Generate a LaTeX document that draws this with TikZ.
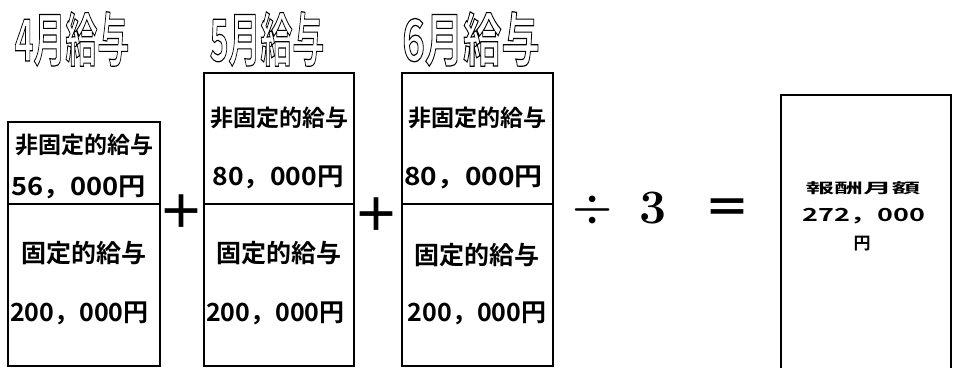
\documentclass[tikz,border=0pt]{standalone}
\usepackage{fontspec}
\setmainfont{Noto Sans CJK JP}[BoldFont={* Bold}]
\newfontfamily\lmr{Latin Modern Roman}
\newcommand{\outl}[1]{\special{pdf:literal direct 1 Tr 1.2 w}#1\special{pdf:literal direct 0 Tr}}
\begin{document}
\begin{tikzpicture}[x=1pt,y=-1pt,
  box/.style={draw,line width=1.6pt},
  lab/.style={inner sep=0pt,font=\bfseries\fontsize{23}{23}\selectfont},
  lab2/.style={inner sep=0pt,font=\bfseries\fontsize{25}{25}\selectfont},
  num/.style={inner sep=0pt,font=\bfseries\fontsize{25}{25}\selectfont},
  head/.style={inner sep=0pt,font=\bfseries\fontsize{58}{58}\selectfont},
  op/.style={inner sep=0pt,font=\bfseries\fontsize{46}{46}\selectfont},
  small/.style={inner sep=0pt,font=\bfseries\fontsize{14}{14}\selectfont}]
\useasboundingbox (0,0) rectangle (953,367);
% headings
\node[head] (h4) at (72,39) {\scalebox{0.55}[1]{\outl{4月給与}}};
\node[head] (h5) at (267,39) {\scalebox{0.55}[1]{\outl{5月給与}}};
\node[head] (h6) at (471,39) {\scalebox{0.66}[1]{\outl{6月給与}}};
% April
\draw[box] (8,122) rectangle (160,366);
\draw[box] (8,204) -- (160,204);
\node[lab] (a1) at (84,145) {非固定的給与};
\node[num,anchor=west] (a2) at (11,187) {\scalebox{1.09}[1]{56，000円}};
\node[lab2] (a3) at (84,253) {固定的給与};
\node[num,anchor=west] (a4) at (10,313) {200，000円};
% May
\draw[box] (204,73) rectangle (354,366);
\draw[box] (204,204) -- (354,204);
\node[lab] (b1) at (279,118) {非固定的給与};
\node[num] (b2) at (278,177) {\scalebox{1.06}[1]{80，000円}};
\node[lab2] (b3) at (279,253) {固定的給与};
\node[num,anchor=west] (b4) at (206,313) {200，000円};
% June
\draw[box] (402,73) rectangle (553,366);
\draw[box] (402,204) -- (553,204);
\node[lab] (c1) at (477,118) {非固定的給与};
\node[num,anchor=west] (c2) at (404,177) {\scalebox{1.12}[1]{80，000円}};
\node[lab2] (c3) at (477,255) {固定的給与};
\node[num] (c4) at (477,313) {200，000円};
% operators
\node[op] (p1) at (181,212) {＋};
\node[op] (p2) at (376,215) {＋};
\node[inner sep=0pt,font=\lmr\bfseries\fontsize{46}{46}\selectfont] (dv) at (593,210) {÷};
\node[inner sep=0pt,font=\lmr\bfseries\fontsize{48}{48}\selectfont] (three) at (653,208) {3};
\node[op] (eq) at (727,212) {＝};
% result
\draw[line width=2.6pt] (781,372) -- (781,95) -- (951,95) -- (951,372);
\node[small] (r1) at (863,188) {\scalebox{2.05}[1]{報酬月額}};
\node[small,font=\bfseries\fontsize{18}{18}\selectfont] (r2) at (864,216) {\scalebox{1.5}[1]{272，000}};
\node[small,font=\bfseries\fontsize{17}{17}\selectfont] (r3) at (862,244) {円};
\end{tikzpicture}
\end{document}
